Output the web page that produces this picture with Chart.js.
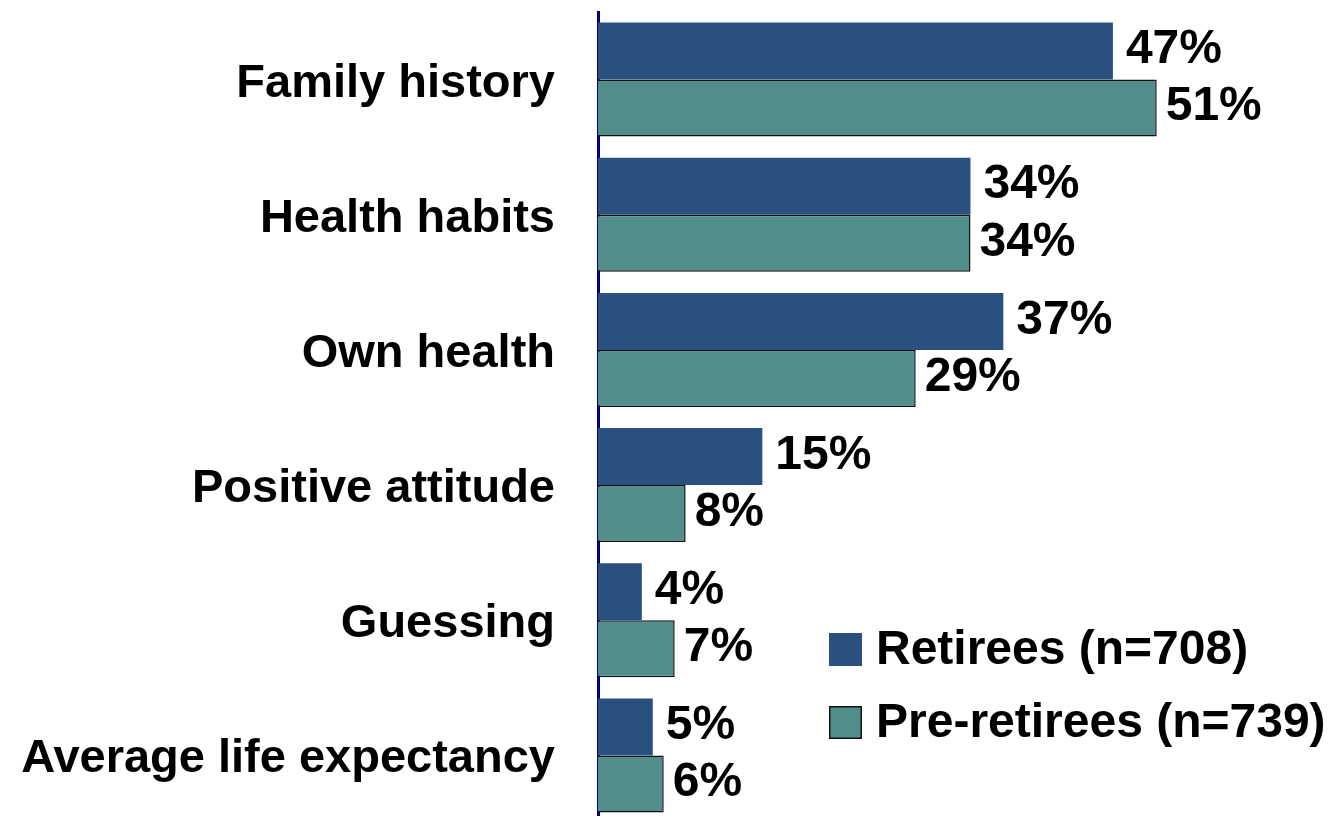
<!DOCTYPE html>
<html>
<head>
<meta charset="utf-8">
<script src="https://cdn.jsdelivr.net/npm/chart.js@4/dist/chart.umd.min.js"></script>
<style>
html,body{margin:0;padding:0;background:#fff;overflow:hidden;}
#wrap{position:relative;width:1332px;height:823px;}
</style>
</head>
<body>
<div id="wrap"><canvas id="c"></canvas></div>
<script>
const categories = ["Family history","Health habits","Own health","Positive attitude","Guessing","Average life expectancy"];
const retirees = [47,34,37,15,4,5];
const preRetirees = [51,34,29,8,7,6];
const seriesNames = ["Retirees (n=708)","Pre-retirees (n=739)"];
const FONT = '"Liberation Sans", Arial, Helvetica, sans-serif';

const labelPlugin = {
  id:'labels',
  afterDatasetsDraw(chart){
    const ctx = chart.ctx;
    ctx.save();
    ctx.font = 'bold 48px ' + FONT;
    ctx.fillStyle = '#000';
    ctx.textBaseline = 'middle';
    ctx.textAlign = 'left';
    chart.data.datasets.forEach((ds,di)=>{
      const meta = chart.getDatasetMeta(di);
      meta.data.forEach((bar,i)=>{
        ctx.fillText(ds.data[i] + '%', bar.x + (di===0?13:9), bar.y - 1);
      });
    });
    // legend
    const items = [{y:633, c:chart.data.datasets[0].backgroundColor, b:false},{y:706, c:chart.data.datasets[1].backgroundColor, b:true}];
    items.forEach((it,k)=>{
      ctx.fillStyle = it.c;
      ctx.fillRect(829, it.y, 33, 33);
      if(it.b){ctx.strokeStyle='#111';ctx.lineWidth=1.5;ctx.strokeRect(829.75,it.y+0.75,31.5,31.5);}
      ctx.fillStyle='#000';
      ctx.fillText(seriesNames[k], 876, it.y + 18);
    });
    ctx.restore();
  }
};

new Chart(document.getElementById('c'), {
  type:'bar',
  data:{
    labels:categories,
    datasets:[
      {label:seriesNames[0], data:retirees, backgroundColor:'#29507f', borderWidth:0},
      {label:seriesNames[1], data:preRetirees, backgroundColor:'#528e8b', borderColor:'#111', borderWidth:1.5}
    ]
  },
  options:{
    indexAxis:'y',
    responsive:true,
    maintainAspectRatio:false,
    animation:false,
    layout:{padding:{top:12,bottom:0,left:0,right:0}},
    categoryPercentage:0.844,
    barPercentage:1,
    plugins:{legend:{display:false},tooltip:{enabled:false}},
    scales:{
      x:{display:false,min:0,max:67},
      y:{
        z:1,
        afterFit(s){s.width=598;s.paddingTop=0;s.paddingBottom=0;},
        grid:{display:false,drawTicks:false},
        border:{display:true,color:'#000080',width:3},
        ticks:{color:'#000',padding:43,labelOffset:4,font:{family:FONT,size:47,weight:'bold'}}
      }
    }
  },
  plugins:[labelPlugin]
});
</script>
</body>
</html>
